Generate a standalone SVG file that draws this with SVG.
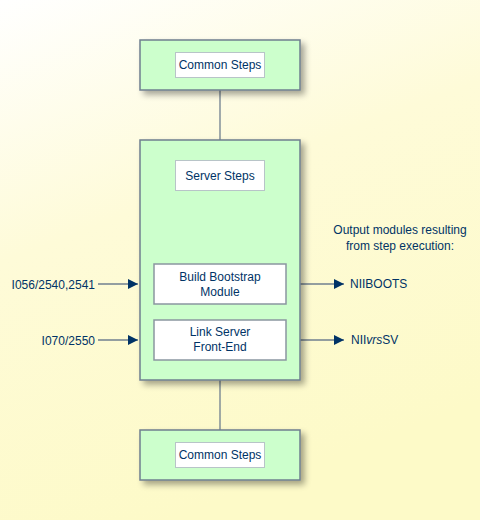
<svg xmlns="http://www.w3.org/2000/svg" width="480" height="520" viewBox="0 0 480 520">
<defs>
<linearGradient id="bg" x1="0" y1="0" x2="0.35" y2="1">
<stop offset="0" stop-color="#ffffff"/>
<stop offset="0.45" stop-color="#fefbd8"/>
<stop offset="1" stop-color="#fdfac8"/>
</linearGradient>
<filter id="sh" x="-20%" y="-20%" width="150%" height="150%">
<feGaussianBlur in="SourceAlpha" stdDeviation="3"/>
<feOffset dx="4" dy="4" result="b"/>
<feComponentTransfer><feFuncA type="linear" slope="0.35"/></feComponentTransfer>
<feMerge><feMergeNode/><feMergeNode in="SourceGraphic"/></feMerge>
</filter>
<marker id="ah" markerWidth="10" markerHeight="10" refX="10" refY="5" orient="auto" markerUnits="userSpaceOnUse">
<path d="M0,0 L10,5 L0,10 Z" fill="#003366"/>
</marker>
<style>
.box{fill:#ccffcc;stroke:#6f7f8f;stroke-width:1.5}
.in{fill:#ffffff;stroke:#b8c4c8;stroke-width:1}
.in2{fill:#ffffff;stroke:#8a96a0;stroke-width:1.5}
.ln{stroke:#6f7f8f;stroke-width:1.3;fill:none}
.t{font-family:"Liberation Sans",Arial,sans-serif;font-size:12px;fill:#003366}
.m{text-anchor:middle}
.e{text-anchor:end}
</style>
</defs>
<rect width="480" height="520" fill="url(#bg)"/>
<g id="connectors">
<line class="ln" x1="220" y1="90" x2="220" y2="140"/>
<line class="ln" x1="220" y1="380" x2="220" y2="430"/>
<line class="ln" x1="220" y1="304" x2="220" y2="320"/>
<line class="ln" x1="98" y1="284" x2="138" y2="284" marker-end="url(#ah)"/>
<line class="ln" x1="98" y1="340" x2="138" y2="340" marker-end="url(#ah)"/>
<line class="ln" x1="300" y1="284" x2="344" y2="284" marker-end="url(#ah)"/>
<line class="ln" x1="300" y1="340" x2="344" y2="340" marker-end="url(#ah)"/>
</g>
<g id="common-top">
<rect class="box" x="140" y="40" width="160" height="50" filter="url(#sh)"/>
<rect class="in" x="175.5" y="52.5" width="89" height="25"/>
<text class="t m" x="220" y="69">Common Steps</text>
</g>
<g id="server">
<rect class="box" x="140" y="140" width="160" height="240" filter="url(#sh)"/>
<rect class="in" x="175.5" y="160.5" width="89" height="30"/>
<text class="t m" x="220" y="180">Server Steps</text>
</g>
<g id="build-bootstrap">
<rect class="in2" x="154" y="264" width="132" height="40"/>
<text class="t m" x="220" y="281">Build Bootstrap</text>
<text class="t m" x="220" y="296">Module</text>
</g>
<g id="link-server">
<rect class="in2" x="154" y="320" width="132" height="40"/>
<text class="t m" x="220" y="336">Link Server</text>
<text class="t m" x="220" y="351">Front-End</text>
</g>
<g id="common-bottom">
<rect class="box" x="140" y="430" width="160" height="50" filter="url(#sh)"/>
<rect class="in" x="175.5" y="442.5" width="89" height="25"/>
<text class="t m" x="220" y="459">Common Steps</text>
</g>
<g id="inputs">
<text class="t e" x="95" y="289">I056/2540,2541</text>
<text class="t e" x="95" y="345">I070/2550</text>
</g>
<g id="outputs">
<text class="t m" x="400" y="234">Output modules resulting</text>
<text class="t m" x="400" y="250">from step execution:</text>
<text class="t" x="350" y="288">NIIBOOTS</text>
<text class="t" x="351" y="344">NII<tspan font-style="italic">vrs</tspan>SV</text>
</g>
</svg>
